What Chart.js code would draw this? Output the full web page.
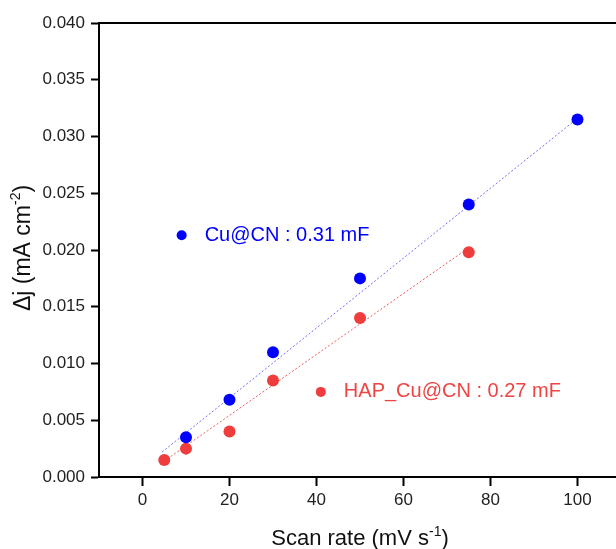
<!DOCTYPE html>
<html>
<head>
<meta charset="utf-8">
<script src="https://cdn.jsdelivr.net/npm/chart.js@4.4.1/dist/chart.umd.min.js"></script>
<style>
  html, body { margin: 0; padding: 0; background: #fff; overflow: hidden; }
  #wrap { width: 630px; height: 549px; }
</style>
</head>
<body>
<div id="wrap"><canvas id="cv"></canvas></div>
<script>
// scan rates (mV s-1) and current density differences (mA cm-2)
const scanRateCu = [10, 20, 30, 50, 75, 100];
const deltaJCu = [0.0035, 0.0068, 0.0110, 0.0175, 0.0240, 0.0315];
const scanRateHap = [5, 10, 20, 30, 50, 75];
const deltaJHap = [0.0015, 0.0025, 0.0040, 0.0085, 0.0140, 0.0198];

// linear fit end points
const fitXCu = [4.5, 100];
const fitYCu = [0.0022, 0.0316];
const fitXHap = [5, 75];
const fitYHap = [0.0014, 0.0202];

const xTicks = [0, 20, 40, 60, 80, 100];
const yTicks = [0, 0.005, 0.010, 0.015, 0.020, 0.025, 0.030, 0.035, 0.040];

const labels = [
  { text: "Cu@CN : 0.31 mF", x: 9, y: 0.0213, color: "#0000ff", dot: "#0000ff" },
  { text: "HAP_Cu@CN : 0.27 mF", x: 41, y: 0.0075, color: "#ef4444", dot: "#ef3c3c" }
];

const BLUE = "#0000ff";
const RED = "#ef3c3c";
const FONT = "'Liberation Sans', Arial, sans-serif";

const pts = (xs, ys) => xs.map((x, i) => ({ x: x, y: ys[i] }));

// axis titles with superscripts, legend labels and the top frame line
const decor = {
  id: "decor",
  afterDraw(chart) {
    const c = chart.ctx;
    const a = chart.chartArea;
    const sx = chart.scales.x, sy = chart.scales.y;

    c.save();
    c.strokeStyle = "#000";
    c.lineWidth = 2;
    c.beginPath();
    c.moveTo(a.left - 1, a.top);
    c.lineTo(a.right, a.top);
    c.stroke();

    labels.forEach(l => {
      const px = sx.getPixelForValue(l.x);
      const py = sy.getPixelForValue(l.y);
      c.fillStyle = l.dot;
      c.beginPath();
      c.arc(px, py, 5, 0, Math.PI * 2);
      c.fill();
      c.fillStyle = l.color;
      c.font = "20px " + FONT;
      c.textBaseline = "middle";
      c.textAlign = "left";
      c.fillText(l.text, px + 23, py);
    });

    function supText(parts, cx, cy, size) {
      const sup = Math.round(size * 0.62);
      c.font = size + "px " + FONT;
      const w0 = c.measureText(parts[0]).width;
      c.font = sup + "px " + FONT;
      const w1 = c.measureText(parts[1]).width;
      c.font = size + "px " + FONT;
      const w2 = c.measureText(parts[2]).width;
      let x = cx - (w0 + w1 + w2) / 2;
      c.fillStyle = "#111";
      c.textAlign = "left";
      c.textBaseline = "alphabetic";
      c.fillText(parts[0], x, cy);
      x += w0;
      c.font = sup + "px " + FONT;
      c.fillText(parts[1], x, cy - size * 0.42);
      x += w1;
      c.font = size + "px " + FONT;
      c.fillText(parts[2], x, cy);
    }

    supText(["Scan rate (mV s", "-1", ")"], 360, 545, 22);

    c.translate(30, 248);
    c.rotate(-Math.PI / 2);
    supText(["\u0394j (mA cm", "-2", ")"], 0, 0, 23);
    c.restore();
  }
};

new Chart(document.getElementById("cv"), {
  type: "scatter",
  data: {
    datasets: [
      { data: pts(scanRateCu, deltaJCu), backgroundColor: BLUE, borderColor: BLUE, pointRadius: 6, pointBorderWidth: 0 },
      { data: pts(scanRateHap, deltaJHap), backgroundColor: RED, borderColor: RED, pointRadius: 6, pointBorderWidth: 0 },
      { data: pts(fitXCu, fitYCu), showLine: true, pointRadius: 0, borderColor: "#6f6fff", borderWidth: 1, borderDash: [2, 2] },
      { data: pts(fitXHap, fitYHap), showLine: true, pointRadius: 0, borderColor: "#f25c5c", borderWidth: 1, borderDash: [2, 2] }
    ]
  },
  options: {
    responsive: true,
    maintainAspectRatio: false,
    animation: false,
    layout: { padding: { top: 23, right: 9, left: 0, bottom: 0 } },
    plugins: { legend: { display: false }, tooltip: { enabled: false } },
    scales: {
      x: {
        type: "linear",
        min: -10,
        max: 110,
        afterBuildTicks: s => { s.ticks = xTicks.map(v => ({ value: v })); },
        afterFit: s => { s.height = 72; },
        ticks: { color: "#222", font: { size: 17, family: FONT }, padding: 4, maxRotation: 0 },
        grid: { drawOnChartArea: false, tickLength: 9, tickWidth: 2, tickColor: "#000" },
        border: { color: "#000", width: 2 }
      },
      y: {
        type: "linear",
        min: 0,
        max: 0.04,
        afterBuildTicks: s => { s.ticks = yTicks.map(v => ({ value: v })); },
        afterFit: s => { s.width = 99; },
        ticks: { color: "#222", font: { size: 17, family: FONT }, padding: 6, callback: v => v.toFixed(3) },
        grid: { drawOnChartArea: false, tickLength: 8, tickWidth: 2, tickColor: "#000" },
        border: { color: "#000", width: 2 }
      }
    }
  },
  plugins: [decor]
});
</script>
</body>
</html>
